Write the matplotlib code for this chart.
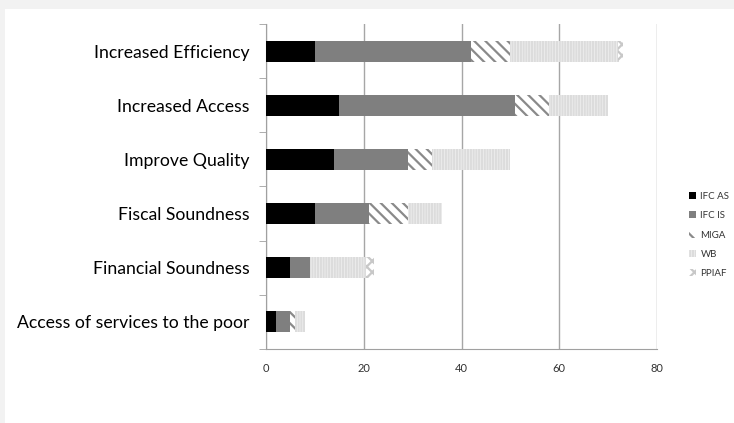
import matplotlib.pyplot as plt
import numpy as np
from matplotlib.patches import Rectangle

# --- data ---
categories = ["Access of services to the poor", "Financial Soundness", "Fiscal Soundness",
              "Improve Quality", "Increased Access", "Increased Efficiency"]
ifc_as = [2, 5, 10, 14, 15, 10]
ifc_is = [3, 4, 11, 15, 36, 32]
miga = [1, 0, 8, 5, 7, 8]
wb = [2, 11.5, 7, 16, 12, 22]
ppiaf = [0, 1.5, 0, 0, 0, 1]
series_names = ["IFC AS", "IFC IS", "MIGA", "WB", "PPIAF"]
xticks = [0, 20, 40, 60, 80]

plt.rcParams['font.family'] = ['Lato', 'DejaVu Sans']
plt.rcParams['hatch.linewidth'] = 1.6

fig = plt.figure(figsize=(7.34, 4.23), dpi=100, facecolor='#f2f2f2')
# white chart area like the Excel frame
fig.patches.append(Rectangle((5 / 734, 0), 1, 1 - 9 / 423, transform=fig.transFigure,
                             facecolor='white', edgecolor='none', zorder=-5))

ax = fig.add_axes([266 / 734, 74 / 423, 391 / 734, 325 / 423])
ax.set_facecolor('white')

styles = [
    dict(color='black', hatch=None),
    dict(color='#7f7f7f', hatch=None),
    dict(color='white', hatch='\\\\\\', hc='#8a8a8a'),
    dict(color='#f6f6f6', hatch='||||||', hc='#dcdcdc'),
    dict(color='white', hatch='xxx', hc='#c8c8c8'),
]
series = [ifc_as, ifc_is, miga, wb, ppiaf]

y = np.arange(len(categories))
left = np.zeros(len(categories))
handles = []
for name, vals, st in zip(series_names, series, styles):
    vals = np.array(vals, dtype=float)
    if st['hatch']:
        b = ax.barh(y, vals, left=left, height=0.39, facecolor=st['color'],
                    edgecolor=st['hc'], hatch=st['hatch'], linewidth=0, label=name, zorder=3)
    else:
        b = ax.barh(y, vals, left=left, height=0.39, color=st['color'],
                    linewidth=0, label=name, zorder=3)
    handles.append(b)
    left += vals

ax.set_xlim(0, 80)
ax.set_ylim(-0.5, len(categories) - 0.5)
ax.set_xticks(xticks)
ax.set_xticklabels([str(t) for t in xticks], fontsize=8, color='#333333')
ax.tick_params(axis='x', length=0, pad=10)
ax.set_yticks(y)
ax.set_yticklabels(categories, fontsize=12.7, color='black')
ax.tick_params(axis='y', length=0, pad=12)
# category boundary ticks like Excel
ax.set_yticks(np.arange(-0.5, len(categories), 1), minor=True)
ax.tick_params(axis='y', which='minor', length=5, color='#a0a0a0', direction='out')

ax.grid(axis='x', color='#a6a6a6', linewidth=1, zorder=0)
for s in ['top', 'right']:
    ax.spines[s].set_visible(False)
ax.spines['left'].set_color('#a0a0a0')
ax.spines['bottom'].set_color('#a0a0a0')

fig.legend(handles=handles, labels=series_names, loc='center left',
           bbox_to_anchor=(680 / 734, 1 - 235 / 423), frameon=False, fontsize=7,
           handlelength=0.7, handleheight=0.7, handletextpad=0.5, labelspacing=1.05,
           labelcolor='#333333')

fig.savefig('out.png', dpi=100, facecolor=fig.get_facecolor())
